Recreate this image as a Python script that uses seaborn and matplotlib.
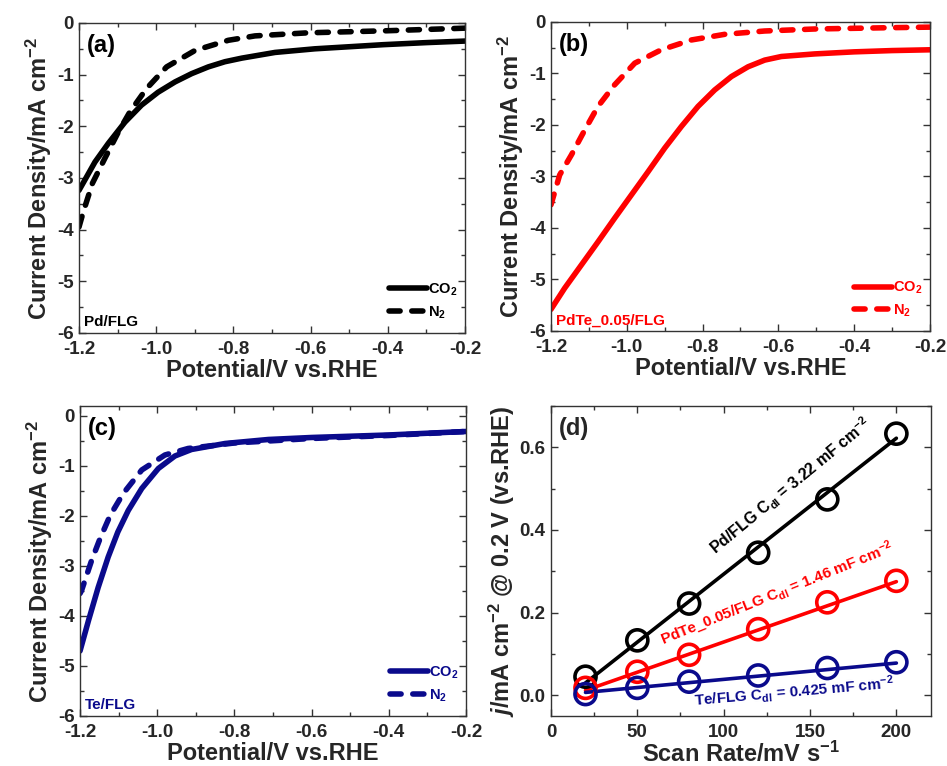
import numpy as np
import pandas as pd
import matplotlib
matplotlib.use("Agg")
import matplotlib.pyplot as plt
import seaborn as sns
from matplotlib.ticker import MultipleLocator, FormatStrFormatter
from matplotlib.lines import Line2D

# ---------------- data ----------------
# Panel (a) Pd/FLG
a_co2_v = [-1.2, -1.1585, -1.124, -1.081, -1.038, -0.995, -0.951, -0.908, -0.865, -0.822,
           -0.778, -0.692, -0.589, -0.5, -0.412, -0.3, -0.2]
a_co2_j = [-3.24, -2.69, -2.33, -1.92, -1.59, -1.34, -1.14, -0.98, -0.85, -0.75,
           -0.68, -0.57, -0.50, -0.46, -0.42, -0.38, -0.35]
a_n2_v = [-1.2, -1.189, -1.165, -1.133, -1.098, -1.068, -1.025, -0.973, -0.899, -0.813,
          -0.744, -0.606, -0.4, -0.2]
a_n2_j = [-3.95, -3.66, -3.10, -2.62, -2.11, -1.72, -1.27, -0.85, -0.53, -0.335,
          -0.25, -0.19, -0.15, -0.10]

# Panel (b) PdTe_0.05/FLG
b_co2_v = [-1.2, -1.164, -1.12, -1.076, -1.032, -0.988, -0.944, -0.900, -0.856, -0.812,
           -0.768, -0.724, -0.680, -0.636, -0.592, -0.504, -0.4, -0.3, -0.2]
b_co2_j = [-5.58, -5.17, -4.72, -4.27, -3.81, -3.36, -2.91, -2.45, -2.03, -1.64,
           -1.32, -1.06, -0.87, -0.74, -0.67, -0.62, -0.58, -0.555, -0.54]
b_n2_v = [-1.2, -1.177, -1.146, -1.111, -1.076, -1.032, -0.979, -0.909, -0.830, -0.742,
          -0.636, -0.504, -0.3, -0.2]
b_n2_j = [-3.55, -2.97, -2.58, -2.10, -1.64, -1.22, -0.80, -0.54, -0.35, -0.24,
          -0.175, -0.136, -0.11, -0.10]

# Panel (c) Te/FLG
c_co2_v = [-1.2, -1.178, -1.153, -1.127, -1.102, -1.075, -1.040, -0.997, -0.954, -0.911,
           -0.824, -0.712, -0.6, -0.4, -0.2]
c_co2_j = [-4.70, -4.09, -3.43, -2.82, -2.32, -1.89, -1.45, -1.05, -0.80, -0.67,
           -0.55, -0.47, -0.43, -0.38, -0.31]
c_n2_v = [-1.2, -1.196, -1.170, -1.148, -1.122, -1.088, -1.040, -0.980, -0.920, -0.8,
          -0.6, -0.4, -0.2]
c_n2_j = [-3.55, -3.49, -2.89, -2.45, -1.99, -1.55, -1.08, -0.78, -0.65, -0.54,
          -0.45, -0.39, -0.31]

# Panel (d) double-layer capacitance
scan_rate = [20, 50, 80, 120, 160, 200]
pd_j = [0.045, 0.133, 0.222, 0.345, 0.474, 0.633]
pdte_j = [0.018, 0.057, 0.098, 0.160, 0.225, 0.277]
te_j = [0.003, 0.018, 0.033, 0.048, 0.066, 0.080]
fit_x = [20, 200]
pd_fit = [0.030, 0.622]
pdte_fit = [0.012, 0.275]
te_fit = [0.007, 0.078]

# ---------------- style ----------------
sns.set_style("ticks")
plt.rcParams['font.family'] = ['Liberation Sans', 'DejaVu Sans']
plt.rcParams['font.weight'] = 'bold'
plt.rcParams['axes.labelweight'] = 'bold'
plt.rcParams['mathtext.fontset'] = 'custom'
plt.rcParams['mathtext.rm'] = 'Liberation Sans:bold'
plt.rcParams['mathtext.bf'] = 'Liberation Sans:bold'
plt.rcParams['mathtext.it'] = 'Liberation Sans:bold:italic'
plt.rcParams['mathtext.default'] = 'bf'

fig = plt.figure(figsize=(9.47, 7.66), dpi=100)
ax_a = fig.add_axes([0.0834, 0.5653, 0.4076, 0.4047])
ax_b = fig.add_axes([0.5818, 0.5679, 0.4002, 0.4034])
ax_c = fig.add_axes([0.0845, 0.0653, 0.4075, 0.4047])
ax_d = fig.add_axes([0.5818, 0.0653, 0.4012, 0.4047])

DASH = (2.0, 2.1)
LW = 4.0


def style_axes(ax):
    for s in ax.spines.values():
        s.set_linewidth(1.0)
        s.set_color('#333333')
    ax.tick_params(which='both', direction='in', top=True, right=True,
                   labelsize=13.5, width=1.0, color='#333333')
    ax.tick_params(axis='x', pad=6)
    ax.tick_params(axis='y', pad=4)
    ax.tick_params(which='major', length=5)
    ax.tick_params(which='minor', length=3)
    for lab in ax.get_xticklabels() + ax.get_yticklabels():
        lab.set_fontweight('bold')


def lsv_panel(ax, co2_v, co2_j, n2_v, n2_j, color, tag, name, ytop):
    d1 = pd.DataFrame({'v': co2_v, 'j': co2_j})
    d2 = pd.DataFrame({'v': n2_v, 'j': n2_j})
    sns.lineplot(data=d1, x='v', y='j', ax=ax, color=color, lw=LW)
    ax.lines[-1].set_solid_capstyle('round')
    ax.lines[-1].set_solid_joinstyle('round')
    sns.lineplot(data=d2, x='v', y='j', ax=ax, color=color, lw=LW)
    ax.lines[-1].set_dashes(DASH)
    ax.lines[-1].set_dash_capstyle('round')
    ax.lines[-1].set_dash_joinstyle('round')
    ax.set_xlim(-1.2, -0.2)
    ax.set_ylim(-6, ytop)
    ax.xaxis.set_major_locator(MultipleLocator(0.2))
    ax.xaxis.set_minor_locator(MultipleLocator(0.1))
    ax.yaxis.set_major_locator(MultipleLocator(1))
    ax.yaxis.set_minor_locator(MultipleLocator(0.5))
    ax.xaxis.set_major_formatter(FormatStrFormatter('%.1f'))
    ax.yaxis.set_major_formatter(FormatStrFormatter('%d'))
    ax.set_xlabel('Potential/V vs.RHE', fontsize=17, fontweight='bold', labelpad=0.5)
    ax.set_ylabel('Current Density/mA cm$^{-2}$', fontsize=17, fontweight='bold', labelpad=2)
    ax.text(0.02, 0.965, tag, transform=ax.transAxes, fontsize=17,
            fontweight='bold', va='top', ha='left', color='black')
    ax.text(0.012, 0.012, name, transform=ax.transAxes, fontsize=11,
            fontweight='bold', va='bottom', ha='left', color=color)
    h1 = Line2D([], [], color=color, lw=LW, solid_capstyle='round')
    h2 = Line2D([], [], color=color, lw=LW, dashes=DASH, dash_capstyle='round')
    ax.legend([h1, h2], ['CO$_2$', 'N$_2$'], loc='lower right',
              frameon=False, fontsize=10.5, handlelength=2.6, handletextpad=0.05,
              labelspacing=0.45, borderaxespad=0.0,
              bbox_to_anchor=(0.995, 0.02), labelcolor=color)
    style_axes(ax)


lsv_panel(ax_a, a_co2_v, a_co2_j, a_n2_v, a_n2_j, 'black', '(a)', 'Pd/FLG', 0)
lsv_panel(ax_b, b_co2_v, b_co2_j, b_n2_v, b_n2_j, '#ff0000', '(b)', 'PdTe_0.05/FLG', 0)
lsv_panel(ax_c, c_co2_v, c_co2_j, c_n2_v, c_n2_j, '#0a0a8c', '(c)', 'Te/FLG', 0.2)

# ---------------- panel (d) ----------------
series = [(pd_j, pd_fit, 'black'), (pdte_j, pdte_fit, '#ff0000'), (te_j, te_fit, '#0a0a8c')]
for yv, fv, col in series:
    sns.lineplot(x=fit_x, y=fv, ax=ax_d, color=col, lw=2.6)
for yv, fv, col in series:
    sns.scatterplot(x=scan_rate, y=yv, ax=ax_d, marker='o', s=230,
                    facecolors='none', edgecolor=col, linewidth=2.6, zorder=5)
ax_d.set_xlim(0, 220)
ax_d.set_ylim(-0.05, 0.70)
ax_d.xaxis.set_major_locator(MultipleLocator(50))
ax_d.xaxis.set_minor_locator(MultipleLocator(25))
ax_d.yaxis.set_major_locator(MultipleLocator(0.2))
ax_d.yaxis.set_minor_locator(MultipleLocator(0.1))
ax_d.yaxis.set_major_formatter(FormatStrFormatter('%.1f'))
ax_d.set_xlabel('Scan Rate/mV s$^{-1}$', fontsize=17, fontweight='bold', labelpad=0.5)
ax_d.set_ylabel('$\\mathit{j}$/mA cm$^{-2}$ @ 0.2 V (vs.RHE)', fontsize=17,
                fontweight='bold', labelpad=2)
ax_d.text(0.02, 0.965, '(d)', transform=ax_d.transAxes, fontsize=17,
          fontweight='bold', va='top', ha='left')
ax_d.text(139, 0.505, 'Pd/FLG C$_{dl}$ = 3.22 mF cm$^{-2}$', rotation=39.5,
          rotation_mode='anchor', ha='center', va='center', fontsize=11.5,
          fontweight='bold', color='black')
ax_d.text(131, 0.245, 'PdTe_0.05/FLG C$_{dl}$ = 1.46 mF cm$^{-2}$', rotation=22,
          rotation_mode='anchor', ha='center', va='center', fontsize=11,
          fontweight='bold', color='#ff0000')
ax_d.text(141, 0.009, 'Te/FLG C$_{dl}$ = 0.425 mF cm$^{-2}$', rotation=5,
          rotation_mode='anchor', ha='center', va='center', fontsize=11,
          fontweight='bold', color='#0a0a8c')
style_axes(ax_d)

fig.savefig('out.png', dpi=100)
